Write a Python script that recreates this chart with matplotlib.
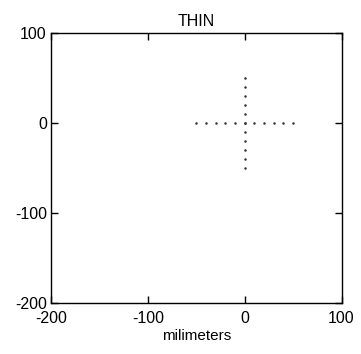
import numpy as np
import matplotlib
matplotlib.use("Agg")
import matplotlib.pyplot as plt
from matplotlib import font_manager

names = {f.name for f in font_manager.fontManager.ttflist}
fam = 'Liberation Sans Narrow' if 'Liberation Sans Narrow' in names else 'Liberation Sans'
plt.rcParams['font.family'] = [fam, 'DejaVu Sans']
plt.rcParams['axes.unicode_minus'] = False

# data
horiz_x = [-50, -40, -30, -20, -10, 0, 10, 20, 30, 40, 50]
horiz_y = [0, 0, 0, 0, 0, 0, 0, 0, 0, 0, 0]
vert_x = [0, 0, 0, 0, 0, 0, 0, 0, 0, 0, 0]
vert_y = [-50, -40, -30, -20, -10, 0, 10, 20, 30, 40, 50]
xticks = [-200, -100, 0, 100]
yticks = [-200, -100, 0, 100]

fig = plt.figure(figsize=(3.61, 3.54), dpi=100)
ax = fig.add_axes([0.1413, 0.144, 0.8047, 0.764])
ax.plot(horiz_x, horiz_y, linestyle='none', marker='.', markersize=1.6, color='#333333')
ax.plot(vert_x, vert_y, linestyle='none', marker='.', markersize=1.6, color='#333333')
ax.set_xlim(-200, 100)
ax.set_ylim(-200, 100)
ax.set_xticks(xticks)
ax.set_yticks(yticks)
ax.tick_params(direction='in', length=5, width=1.0, labelsize=11.5, top=True, right=True)
ax.tick_params(axis='x', pad=6)
ax.tick_params(axis='y', pad=3)
for s in ax.spines.values():
    s.set_linewidth(1.0)
ax.set_title('THIN', fontsize=11.5, pad=5)
ax.set_xlabel('milimeters', fontsize=11, labelpad=2)
fig.savefig('out.png', dpi=100)
